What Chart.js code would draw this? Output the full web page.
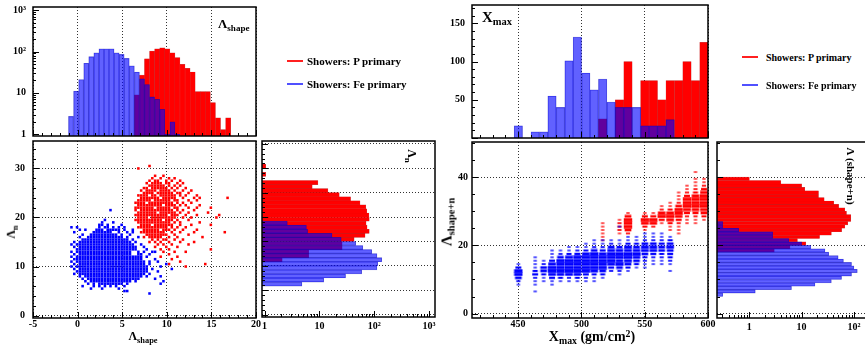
<!DOCTYPE html>
<html>
<head>
<meta charset="utf-8">
<script src="https://cdn.jsdelivr.net/npm/chart.js@4.4.0/dist/chart.umd.min.js"></script>
<style>
  body { margin: 0; background: #fff; overflow: hidden; }
  #wrap { position: relative; width: 865px; height: 345px; overflow: hidden; font-family: 'Liberation Serif', 'Times New Roman', serif; font-weight: bold; color: #000; }
  .box { position: absolute; }
  .lab { position: absolute; white-space: nowrap; line-height: 1; z-index: 5; }
  .lab sub { font-size: 0.7em; vertical-align: baseline; position: relative; top: 0.3em; }
  .lab sup { font-size: 0.7em; vertical-align: baseline; position: relative; top: -0.45em; }
  .mid { transform: translate(-50%, -50%); }
  .ccw { transform: translate(-50%, -50%) rotate(-90deg); }
  .cw { transform: translate(-50%, -50%) rotate(90deg); }
  .legline { position: absolute; height: 2px; width: 16px; z-index: 6; }
  .legtext { position: absolute; white-space: nowrap; transform: translateY(-50%); z-index: 5; }
</style>
</head>
<body>
<div id="wrap">
  <div class="lab" style="left:218px;top:17px;font-size:13px">Λ<sub>shape</sub></div>
  <div class="lab mid" style="left:143px;top:336px;font-size:12px">Λ<sub>shape</sub></div>
  <div class="lab ccw" style="left:11px;top:232px;font-size:12px">Λ<sub>n</sub></div>
  <div class="lab cw" style="left:412px;top:156px;font-size:12px">Λ<sub>n</sub></div>

  <div class="legline" style="left:287px;top:60px;background-color:#ff2020"></div>
  <div class="legtext" style="left:307px;top:61px;font-size:11px">Showers: P primary</div>
  <div class="legline" style="left:287px;top:83px;background-color:#5050ff"></div>
  <div class="legtext" style="left:307px;top:84px;font-size:11px">Showers: Fe primary</div>

  <div class="lab" style="left:482px;top:10px;font-size:15px">X<sub>max</sub></div>
  <div class="lab mid" style="left:592px;top:337px;font-size:14px">X<sub>max</sub> (gm/cm<sup>2</sup>)</div>
  <div class="lab ccw" style="left:447px;top:222px;font-size:15px">Λ<sub>shape+n</sub></div>
  <div class="lab cw" style="left:850px;top:176px;font-size:11px">Λ (shape+n)</div>

  <div class="legline" style="left:742px;top:56px;background-color:#ff2020"></div>
  <div class="legtext" style="left:766px;top:57px;font-size:10px">Showers: P primary</div>
  <div class="legline" style="left:742px;top:84px;background-color:#5050ff"></div>
  <div class="legtext" style="left:766px;top:85px;font-size:10px">Showers: Fe primary</div>
</div>
<script>
// ---------- data ----------

// Lambda_shape histogram (top left), bin centres and counts
const lsCenters = [-0.74, -0.17, 0.40, 0.97, 1.53, 2.10, 2.67, 3.24, 3.81, 4.38, 4.94, 5.51, 6.08, 6.65, 7.22, 7.78,
  8.35, 8.92, 9.49, 10.06, 10.63, 11.19, 11.76, 12.33, 12.90, 13.47, 14.03, 14.60, 15.17, 15.74, 16.31, 16.88];
const lsBlue = [2.7, 11, 21, 52, 75, 93, 116, 116, 116, 93, 85, 68, 45, 32, 22, 16, 8, 7, 4, 1, 2, 1,
  null, null, null, null, null, null, null, null, null, null];
const lsRed = [null, null, null, null, null, null, null, null, null, null, null, null, null,
  9, 27, 67, 102, 116, 122, 116, 93, 71, 49, 39, 32, 10.7, 10.7, 10.7, 5.8, 2.5, 1.3, 2.5];

// Lambda_n projection (right of left scatter)
const lnCenters = [6.25, 7.08, 7.92, 8.75, 9.58, 10.42, 11.25, 12.08, 12.92, 13.75, 14.58, 15.42, 16.25, 17.08, 17.92,
  18.75, 19.58, 20.42, 21.25, 22.08, 22.92, 23.75, 24.58, 25.42, 26.25, 27.08, 27.92, 28.75, 29.58, 30.42];
const lnBlue = [4.8, 12, 30, 59, 112, 116, 137, 112, 90, 62, 46, 25, 17, 6.1, 5.8, 2.6,
  null, null, null, null, null, null, null, null, null, null, null, null, null, null];
const lnRed = [null, null, null, null, null, null, 2.1, 6.4, 6.4, 26, 26, 43, 68, 81, 74, 71, 81, 80, 73, 70,
  55, 37, 23, 14.3, 7.4, 9.4, null, 1.05, null, 1.05];

// left scatter: filled cells of a 2D histogram, x = gridX0 + gridDX * column
const gridX0 = -1.0, gridDX = 0.3125;
const scatBlueRows = [
  [21.5, '15'], [19.5, '13'], [19, '12 16'], [18.5, '11 12 14 19'], [18, '1 3 11 13 14 16 18 20'],
  [17.5, '4 6 10-12 14-18 20 23'], [17, '2 9-15 18 21 23'], [16.5, '5 8-17 19 22'], [16, '4 7-19 21 25'],
  [15.5, '5-21 23'], [15, '2 4-22 24'], [14.5, '1 3-23 26'], [14, '2 4-24 27'], [13.5, '3-24 28'],
  [13, '1 3-22 25 27 30 31'], [12.5, '2 4-22 25 26 29'], [12, '1 3-26 28'], [11.5, '2-26 31'],
  [11, '1 3-27 29 32'], [10.5, '2 4-27 29 35'], [10, '1 3-28 33'], [9.5, '2 4-28 30 37'],
  [9, '3-28 32'], [8.5, '2 4-27 29'], [8, '4 6-26 28 33'], [7.5, '5 7-25 31'],
  [7, '6 8-22 24 34'], [6.5, '7 9 11-19 21 33'], [6, '5 9 11 13 15 17 20'], [5.5, '8 12 18'],
  [5, '20 21'], [4.5, '29']
];
const scatRedRows = [
  [30.5, '29'], [30, '25'], [28.5, '31 34'], [28, '30 33 36 38'], [27.5, '29 31 32 35 37 40'],
  [27, '28 30-33 35 36 39 41'], [26.5, '29-34 36 38 40'], [26, '27 28 30-35 37 39 42'],
  [25.5, '26 28-31 33-36 38 41 44'], [25, '27-30 32-37 39 40 43'], [24.5, '25-28 30 31 33-38 40 42 46'],
  [24, '26-32 34-38 41 45 47 57'], [23.5, '25-29 31-36 38 39 43 46'], [23, '24-27 29-37 39 41 44'],
  [22.5, '25-33 35-38 40 42 47'], [22, '24-30 32-36 38 39 43 46 51'], [21.5, '24 26-37 39 41 45'],
  [21, '25-31 33-38 40 43 50'], [20.5, '24-35 37-39 42 46 54'], [20, '25-28 30-38 41 44 53'],
  [19.5, '24-33 35-37 39 43'], [19, '25-36 38 40 47'], [18.5, '26-29 31-37 40 44 51'], [18, '25-35 37 39 42'],
  [17.5, '27-32 34-36 38 41 46'], [17, '26-34 37 40 45 56'], [16.5, '28-35 38 43'], [16, '27 29-33 36 39 48'],
  [15.5, '30 32 34 35 38 41'], [15, '29 31 33 36 40 45'], [14.5, '32 34 37 43'], [14, '31 35 39'],
  [13.5, '33 36 51'], [13, '34 38 42'], [12.5, '36'], [12, '33 39'], [11.5, '37'], [11, '40'],
  [10.5, '36 49'], [10, '42']
];

// Xmax histogram (top right)
const xmCenters = [450.2, 456.9, 463.5, 470.2, 476.8, 483.5, 490.2, 496.8, 503.5, 510.1, 516.8, 523.5,
  530.1, 536.8, 543.5, 550.1, 556.8, 563.4, 570.1, 576.8, 583.4, 590.1, 596.8];
const xmBlue = [16, null, 8, 8, 55, 40, 101, 132, 85, 63, 77, 47, 40, 40, 40, 16, 16, 16, 24, null, null, null, null];
const xmRed = [null, null, null, null, null, null, null, null, null, null, 25, null, 50, 100, null, 75, 75, 50, 75, 75, 100, 75, 125];

// right scatter: [Xmax column, first Lambda bin, box size per unit bin]
const boxBlueCols = [
  [450.2, 8, [4, 5, 8, 10, 10, 7, 4]],
  [463.5, 6, [4, 0, 4, 4, 5, 7, 6, 4, 4, 4, 4]],
  [470.2, 9, [4, 4, 6, 8, 8, 5, 4]],
  [476.8, 8, [4, 4, 7, 9, 10, 10, 9, 7, 4, 4, 4]],
  [483.5, 9, [4, 6, 9, 10, 10, 10, 10, 8, 5, 4]],
  [490.2, 9, [4, 5, 9, 10, 10, 10, 10, 9, 6, 4, 4]],
  [496.8, 9, [4, 6, 9, 10, 10, 10, 10, 10, 7, 5, 4]],
  [503.5, 9, [4, 5, 7, 10, 10, 10, 10, 10, 9, 6, 4, 4]],
  [510.1, 9, [4, 4, 6, 9, 10, 10, 10, 10, 10, 8, 5, 4, 4]],
  [516.8, 10, [4, 6, 8, 10, 10, 10, 10, 9, 7, 5, 4, 4]],
  [523.5, 12, [5, 7, 9, 10, 10, 10, 9, 8, 5, 4]],
  [530.1, 11, [4, 5, 8, 10, 9, 10, 10, 9, 7, 4, 4, 0, 0, 0, 4]],
  [536.8, 12, [4, 6, 8, 9, 10, 10, 9, 9, 6, 4, 4]],
  [543.5, 13, [4, 6, 8, 9, 10, 9, 8, 6, 4, 4]],
  [550.1, 13, [4, 4, 5, 6, 8, 9, 9, 8, 5, 4, 4]],
  [556.8, 14, [4, 4, 5, 7, 9, 9, 8, 5, 4, 4]],
  [563.4, 14, [4, 4, 5, 6, 8, 8, 7, 5, 4, 4]],
  [570.1, 12, [4, 0, 4, 5, 6, 7, 8, 9, 8, 6, 4]]
];
const boxRedCols = [
  [516.8, 21, [4, 4, 4, 4, 4, 4]],
  [530.1, 23, [4, 5, 5, 5, 4]],
  [536.8, 23, [5, 8, 10, 10, 10, 8, 4]],
  [550.1, 24, [4, 6, 9, 10, 7, 4]],
  [556.8, 25, [5, 9, 10, 7, 4]],
  [563.4, 26, [4, 7, 10, 9, 5, 4]],
  [570.1, 24, [4, 4, 6, 9, 10, 9, 6, 4, 4]],
  [576.8, 23, [4, 4, 4, 5, 7, 9, 10, 10, 8, 5, 4, 4, 4]],
  [583.4, 26, [4, 4, 5, 7, 9, 10, 10, 10, 7, 5, 4, 4]],
  [590.1, 26, [4, 4, 5, 7, 9, 10, 10, 10, 9, 6, 5, 4, 4, 4, 0, 4]],
  [596.8, 27, [4, 6, 8, 9, 10, 10, 10, 10, 9, 7, 5, 4, 4]]
];

// Lambda(shape+n) projection (far right)
const lsnCenters = [5.5, 6.5, 7.5, 8.5, 9.5, 10.5, 11.5, 12.5, 13.5, 14.5, 15.5, 16.5, 17.5, 18.5, 19.5, 20.5, 21.5,
  22.5, 23.5, 24.5, 25.5, 26.5, 27.5, 28.5, 29.5, 30.5, 31.5, 32.5, 33.5, 34.5, 35.5, 36.5, 37.5, 38.5, 39.5];
const lsnBlue = [0.31, 1.3, 6.4, 18, 37, 58, 90, 116, 100, 90, 63, 50, 33, 28, 15, 10, 5.7, 2.8, 2.8, 0.63, 0.31, 0.31,
  null, null, null, null, null, null, null, null, null, null, null, null, null];
const lsnRed = [null, null, null, null, null, null, null, null, null, null, null, null, null,
  3, 6, 12, 8.3, 22, 37, 58, 67, 76, 87, 87, 72, 67, 51, 41, 27, 21, 21, 11.5, 10, 4, 1];

const logLabels = {1: '1', 10: '10', 100: '10²', 1000: '10³'};

// ---------- drawing ----------
Chart.defaults.font.family = "'Liberation Serif', 'Times New Roman', serif";
Chart.defaults.font.size = 10;
Chart.defaults.font.weight = 'bold';
Chart.defaults.color = '#000';

const RED = '#ff0000', RED_EDGE = 'rgba(170,0,0,0.7)';
const BLUE = 'rgba(0,0,255,0.62)', BLUE_EDGE = 'rgba(0,0,160,0.5)';
const GRID = {color: 'rgba(0,0,0,0.8)', lineWidth: 1, drawTicks: false, offset: false};
const DOTTED = {display: false, dash: [1, 2]};
const NOGRID = {display: false, drawTicks: false};

function range(a, b, s) {
  const r = [];
  for (let v = a; v <= b + 1e-9; v += s) r.push(+v.toFixed(4));
  return r;
}
function logMinor(lo, hi) {
  const r = [];
  for (let d = lo; d < hi; d *= 10) for (let m = 2; m <= 9; m++) r.push(m * d);
  return r;
}
const pairs = (xs, ys) => xs.map((x, i) => ({x, y: ys[i]}));
const pairsH = (ys, xs) => ys.map((y, i) => ({x: xs[i], y}));

function cells(rows) {
  const out = [];
  rows.forEach(([y, spec]) => spec.split(' ').forEach(tok => {
    const [a, b] = tok.split('-').map(Number);
    for (let i = a; i <= (b === undefined ? a : b); i++) out.push({x: gridX0 + gridDX * i, y});
  }));
  return out;
}
function boxes(cols) {
  const out = [];
  cols.forEach(([x, n0, sizes]) => sizes.forEach((c, j) => { if (c) out.push({x, y: n0 + j + 0.5, c}); }));
  return out;
}
function boxImages(color) {
  const imgs = [];
  for (let c = 0; c <= 10; c++) {
    const cv = document.createElement('canvas');
    cv.width = 10; cv.height = 4;
    const g = cv.getContext('2d');
    g.fillStyle = color;
    const w = 8.4 * c / 10, h = 3.4 * c / 10;
    g.fillRect(5 - w / 2, 2 - h / 2, w, h);
    imgs.push(cv);
  }
  return imgs;
}

// ROOT-like frame with inward ticks
const rootFrame = {
  id: 'rootFrame',
  afterDatasetsDraw(chart, args, o) {
    const {ctx, chartArea: a} = chart;
    const sx = chart.scales.x, sy = chart.scales.y;
    ctx.save();
    ctx.strokeStyle = '#000';
    ctx.lineWidth = 1;
    ctx.beginPath();
    const tx = (vals, len) => vals.forEach(v => {
      if (v < sx.min || v > sx.max) return;
      const p = Math.round(sx.getPixelForValue(v)) + 0.5;
      ctx.moveTo(p, a.bottom); ctx.lineTo(p, a.bottom - len);
    });
    const ty = (vals, len) => vals.forEach(v => {
      if (v < sy.min || v > sy.max) return;
      const p = Math.round(sy.getPixelForValue(v)) + 0.5;
      ctx.moveTo(a.left, p); ctx.lineTo(a.left + len, p);
    });
    if (o.x) { tx(o.x[0], 6); tx(o.x[1], 3); }
    if (o.y) { ty(o.y[0], 6); ty(o.y[1], 3); }
    ctx.stroke();
    ctx.lineWidth = 1.5;
    ctx.strokeRect(a.left, a.top, a.right - a.left, a.bottom - a.top);
    ctx.restore();
  }
};
Chart.register(rootFrame);

// make a canvas whose chart area lands on [l, t, r, b]
function place(area, W, H, padT, padR, padB) {
  const [l, t, r, b] = area;
  const w = W + (r - l) + padR, h = padT + (b - t) + H + padB;
  const div = document.createElement('div');
  div.className = 'box';
  div.style.cssText = `left:${l - W}px;top:${t - padT}px;width:${w}px;height:${h}px`;
  const cv = document.createElement('canvas');
  cv.width = w; cv.height = h;
  div.appendChild(cv);
  document.getElementById('wrap').prepend(div);
  return cv;
}
function base(padT, padR, padB, ticks) {
  return {
    responsive: false, animation: false, devicePixelRatio: 1, events: [],
    layout: {padding: {top: padT, right: padR, bottom: padB, left: 0}},
    datasets: {bar: {grouped: false, barPercentage: 1, categoryPercentage: 1}},
    plugins: {legend: {display: false}, tooltip: {enabled: false}, rootFrame: ticks}
  };
}
const fixH = h => s => { s.height = h; };
const fixW = w => s => { s.width = w; };
const setTicks = vals => s => { s.ticks = vals.map(value => ({value})); };

const TL = [33, 7, 256, 136], SL = [33, 141, 256, 318], RL = [262, 141, 435, 317];
const TR = [472, 5, 708, 138], SR = [472, 142, 708, 318], RR = [717, 142, 870, 318];

// top left: Lambda_shape (log)
new Chart(place(TL, 33, 8, 16, 12, 8), {
  type: 'bar',
  data: {datasets: [
    {data: pairs(lsCenters, lsBlue), backgroundColor: BLUE, borderColor: BLUE_EDGE, borderWidth: 0.4, order: 1},
    {data: pairs(lsCenters, lsRed), backgroundColor: RED, borderColor: RED_EDGE, borderWidth: 0.4, order: 2}
  ]},
  options: Object.assign(base(16, 12, 8, {x: [range(-5, 20, 5), range(-5, 20, 1)], y: [[1, 10, 100, 1000], logMinor(1, 1000)]}), {
    scales: {
      x: {type: 'linear', offset: false, min: -5, max: 20, ticks: {display: false, stepSize: 5, includeBounds: false}, grid: GRID, border: DOTTED, afterFit: fixH(8)},
      y: {type: 'logarithmic', min: 0.91, max: 1190, afterBuildTicks: setTicks([1, 10, 100, 1000]),
          ticks: {callback: v => logLabels[v], padding: 7, autoSkip: false}, grid: NOGRID, border: {display: false}, afterFit: fixW(33)}
    }
  })
});

// left scatter
new Chart(place(SL, 33, 27, 16, 14, 0), {
  type: 'scatter',
  data: {datasets: [
    {data: cells(scatBlueRows), pointStyle: 'rect', pointRadius: 1.8, borderWidth: 0, backgroundColor: '#0000ff', order: 1},
    {data: cells(scatRedRows), pointStyle: 'rect', pointRadius: 1.8, borderWidth: 0, backgroundColor: '#ff0000', order: 2}
  ]},
  options: Object.assign(base(16, 14, 0, {x: [range(-5, 20, 5), range(-5, 20, 1)], y: [range(0, 30, 10), range(0, 34, 2)]}), {
    scales: {
      x: {type: 'linear', min: -5, max: 20, ticks: {stepSize: 5, padding: 0, includeBounds: false, autoSkip: false}, grid: GRID, border: DOTTED, afterFit: fixH(27)},
      y: {type: 'linear', min: -0.5, max: 35.6, ticks: {stepSize: 10, padding: 8, includeBounds: false}, grid: GRID, border: DOTTED, afterFit: fixW(33)}
    }
  })
});

// Lambda_n projection
new Chart(place(RL, 4, 27, 16, 12, 0), {
  type: 'bar',
  data: {datasets: [
    {data: pairsH(lnCenters, lnBlue), backgroundColor: BLUE, borderColor: BLUE_EDGE, borderWidth: 0.4, order: 1},
    {data: pairsH(lnCenters, lnRed), backgroundColor: RED, borderColor: RED_EDGE, borderWidth: 0.4, order: 2}
  ]},
  options: Object.assign(base(16, 12, 0, {x: [[1, 10, 100, 1000], logMinor(1, 1000)], y: [range(0, 35, 5), range(0, 35, 1)]}), {
    indexAxis: 'y',
    scales: {
      y: {type: 'linear', offset: false, min: -0.5, max: 35.6, ticks: {display: false, stepSize: 5, includeBounds: false}, grid: GRID, border: DOTTED, afterFit: fixW(4)},
      x: {type: 'logarithmic', min: 0.9, max: 1280, afterBuildTicks: setTicks([1, 10, 100, 1000]),
          ticks: {callback: v => logLabels[v], padding: 3, autoSkip: false, maxRotation: 0}, grid: NOGRID, border: {display: false}, afterFit: fixH(27)}
    }
  })
});

// top right: Xmax
new Chart(place(TR, 30, 8, 16, 12, 8), {
  type: 'bar',
  data: {datasets: [
    {data: pairs(xmCenters, xmBlue), backgroundColor: BLUE, borderColor: BLUE_EDGE, borderWidth: 0.4, order: 1},
    {data: pairs(xmCenters, xmRed), backgroundColor: RED, borderColor: RED_EDGE, borderWidth: 0.4, order: 2}
  ]},
  options: Object.assign(base(16, 12, 8, {x: [range(450, 600, 50), range(420, 600, 10)], y: [range(0, 150, 50), range(0, 170, 10)]}), {
    scales: {
      x: {type: 'linear', offset: false, min: 413.6, max: 600, afterBuildTicks: setTicks([450, 500, 550, 600]), ticks: {display: false}, grid: GRID, border: DOTTED, afterFit: fixH(8)},
      y: {type: 'linear', min: 0, max: 174, ticks: {stepSize: 50, padding: 7, includeBounds: false, callback: v => (v ? v : '')}, grid: NOGRID, border: {display: false}, afterFit: fixW(30)}
    }
  })
});

// right scatter (box style)
const redImgs = boxImages('#ff0000'), blueImgs = boxImages('#0000ff');
new Chart(place(SR, 30, 27, 16, 14, 0), {
  type: 'scatter',
  data: {datasets: [
    {data: boxes(boxBlueCols), pointStyle: c => blueImgs[c.raw ? c.raw.c : 10], pointRadius: 3, order: 1},
    {data: boxes(boxRedCols), pointStyle: c => redImgs[c.raw ? c.raw.c : 10], pointRadius: 3, order: 2}
  ]},
  options: Object.assign(base(16, 14, 0, {x: [range(450, 600, 50), range(420, 600, 10)], y: [range(0, 40, 20), range(0, 50, 5)]}), {
    scales: {
      x: {type: 'linear', min: 413.6, max: 600, afterBuildTicks: setTicks([450, 500, 550, 600]), ticks: {padding: 0, autoSkip: false}, grid: GRID, border: DOTTED, afterFit: fixH(27)},
      y: {type: 'linear', min: -1.3, max: 50.3, ticks: {stepSize: 20, padding: 4, includeBounds: false}, grid: GRID, border: DOTTED, afterFit: fixW(30)}
    }
  })
});

// Lambda(shape+n) projection
new Chart(place(RR, 4, 27, 16, 12, 0), {
  type: 'bar',
  data: {datasets: [
    {data: pairsH(lsnCenters, lsnBlue), backgroundColor: BLUE, borderColor: BLUE_EDGE, borderWidth: 0.4, order: 1},
    {data: pairsH(lsnCenters, lsnRed), backgroundColor: RED, borderColor: RED_EDGE, borderWidth: 0.4, order: 2}
  ]},
  options: Object.assign(base(16, 12, 0, {x: [[1, 10, 100], [0.3, 0.4, 0.5, 0.6, 0.7, 0.8, 0.9].concat(logMinor(1, 100), [200])], y: [range(0, 40, 20), range(0, 50, 5)]}), {
    indexAxis: 'y',
    scales: {
      y: {type: 'linear', offset: false, min: -1.3, max: 50.3, ticks: {display: false, stepSize: 20, includeBounds: false}, grid: GRID, border: DOTTED, afterFit: fixW(4)},
      x: {type: 'logarithmic', min: 0.241, max: 203, afterBuildTicks: setTicks([1, 10, 100]),
          ticks: {callback: v => logLabels[v], padding: 3, autoSkip: false, maxRotation: 0}, grid: NOGRID, border: {display: false}, afterFit: fixH(27)}
    }
  })
});
</script>
</body>
</html>
